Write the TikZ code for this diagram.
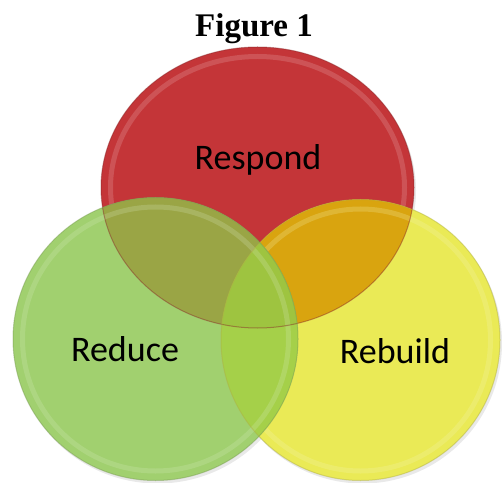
\documentclass[tikz,border=0pt]{standalone}
\usepackage{fontspec}
\setmainfont{Liberation Serif}
\newfontfamily\lblfont{Carlito}
\definecolor{cRed}{HTML}{C43538}
\definecolor{cGreen}{HTML}{A1D06F}
\definecolor{cYellow}{HTML}{EAEA56}
\definecolor{cRG}{HTML}{9AA545}
\definecolor{cRY}{HTML}{D9A40F}
\definecolor{cGY}{HTML}{A5D049}
\definecolor{cRGY}{HTML}{9EC440}
\newcommand{\redpath}{(257.5pt,294.5pt) ellipse [x radius=156.5pt, y radius=140.5pt]}
\newcommand{\greenpath}{(155.5pt,143pt) ellipse [x radius=142.5pt, y radius=141.5pt]}
\newcommand{\yellowpath}{(360.5pt,142pt) ellipse [x radius=139.5pt, y radius=140.5pt]}
\tikzset{
  lbl/.style={font=\lblfont\fontsize{36}{40}\selectfont, text=black, inner sep=0pt},
  ttl/.style={font=\bfseries\fontsize{33}{38}\selectfont, text=black, inner sep=0pt},
  rim/.style={line width=5pt, opacity=0.22},
  edge/.style={line width=1pt, opacity=0.45}
}
\begin{document}
\begin{tikzpicture}[x=1pt,y=1pt]
\useasboundingbox (0,0) rectangle (502,482);
% shadows
\fill[black!25, opacity=0.35] (259.5,291.5) ellipse [x radius=156.5, y radius=140.5];
\fill[black!25, opacity=0.35] (362.5,139) ellipse [x radius=139.5, y radius=140.5];
\fill[black!25, opacity=0.35] (157.5,140) ellipse [x radius=142.5, y radius=141.5];
% base fills
\fill[cRed] \redpath;
\draw[rim, white!70!cRed] (257.5,294.5) ellipse [x radius=147, y radius=131];
\fill[cYellow] \yellowpath;
\begin{scope}\clip \redpath; \fill[cRY] \yellowpath; \end{scope}
\draw[rim, white!60!cYellow] (360.5,142) ellipse [x radius=130, y radius=131];
\fill[cGreen] \greenpath;
\begin{scope}\clip \greenpath; \fill[cRG] \redpath; \end{scope}
\begin{scope}\clip \greenpath; \fill[cGY] \yellowpath; \end{scope}
\begin{scope}\clip \greenpath; \clip \redpath; \fill[cRGY] \yellowpath; \end{scope}
\draw[rim, white!60!cGreen] (155.5,143) ellipse [x radius=133, y radius=132];
% edges
\draw[edge, cRed!70!black] \redpath;
\draw[edge, cYellow!75!black] \yellowpath;
\draw[edge, cGreen!75!black] \greenpath;
% labels
\node[ttl] (title) at (254,453) {Figure 1};
\node[lbl] (respond) at (258,322) {Respond};
\node[lbl] (reduce) at (125,133) {Reduce};
\node[lbl] (rebuild) at (395,131) {Rebuild};
\end{tikzpicture}
\end{document}
